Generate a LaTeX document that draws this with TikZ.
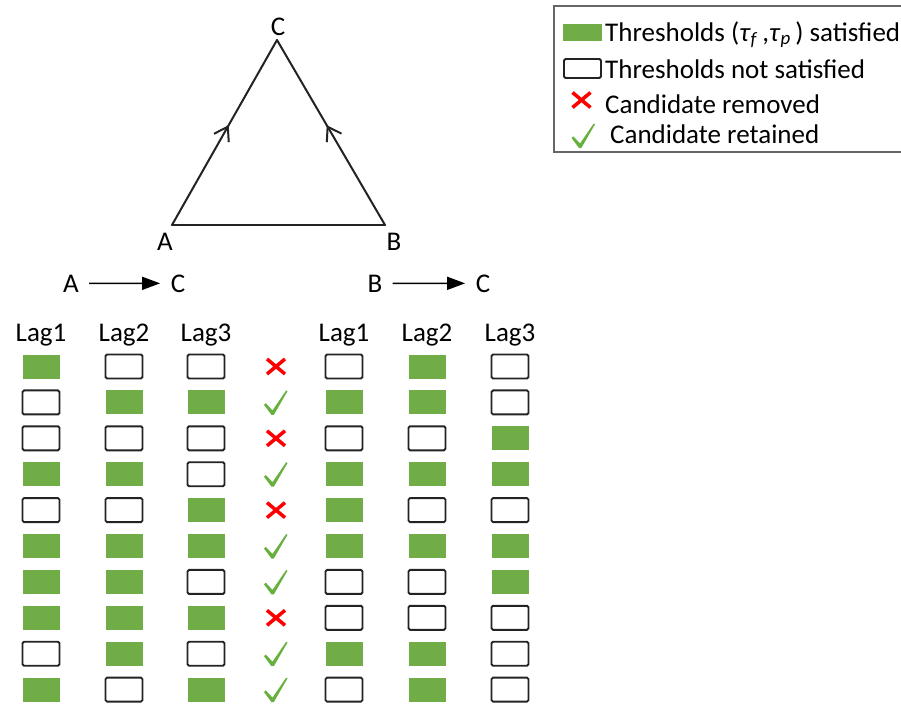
\documentclass[tikz,border=0pt]{standalone}
\usepackage{fontspec}
\setmainfont{Carlito}
\usetikzlibrary{arrows.meta,decorations.markings}
\definecolor{okgreen}{RGB}{112,173,71}
\definecolor{tickgreen}{RGB}{104,176,62}
\definecolor{inkgray}{RGB}{35,35,35}

\tikzset{
  % lag cells
  gbox/.style={fill=okgreen, draw=none, minimum width=37pt, minimum height=24pt, inner sep=0pt},
  wbox/.style={draw=inkgray, line width=1.9pt, rounded corners=1.5pt, fill=white,
               minimum width=37pt, minimum height=24pt, inner sep=0pt},
  cellG/.style={gbox},
  cellW/.style={wbox},
  label/.style={anchor=base, inner sep=0pt, text=black},
  keytext/.style={anchor=base west, inner sep=0pt, text=black},
  edge/.style={draw=inkgray, line width=2pt, line cap=round},
  midarrow/.style={postaction={decorate},
    decoration={markings, mark=at position 0.54 with
      {\arrow{Straight Barb[length=13pt,width=17pt,line width=2pt]}}}},
  flowarrow/.style={draw=black, line width=1.5pt, -{Triangle[length=18pt,width=13pt]},
                    shorten <=10pt, shorten >=10.5pt},
  okmark/.pic={\fill[tickgreen] (-12,2.5) -- (-10.2,0.8) -- (-3.5,8) -- (10.2,-12)
                 -- (11.5,-11.2) -- (-2.2,12.5) -- (-4.5,12.5) -- cycle;},
  nomark/.pic={\draw[red, line width=3.5pt] (-9,-7.5) -- (9,7.5) (-9,7.5) -- (9,-7.5);}
}

\begin{document}
\begin{tikzpicture}[x=1pt, y=-1pt, font=\fontsize{27}{32}\selectfont]
\useasboundingbox (0,0) rectangle (901,705);
\clip (0,0) rectangle (901,705);

% triangle of variables
\coordinate (vA) at (172,225);
\coordinate (vB) at (385,225);
\coordinate (vC) at (277,40);
\draw[edge] (vA) -- (vB);
\draw[edge, midarrow] (vA) -- (vC);
\draw[edge, midarrow] (vB) -- (vC);
\node[label] (lC) at (278,35) {C};
\node[label] (lA) at (165,250) {A};
\node[label] (lB) at (394,250) {B};

% candidate links
\node[label] (fromA) at (71,292) {A};
\node[label] (toC1) at (178,292) {C};
\draw[flowarrow] (fromA) -- (toC1);
\node[label] (fromB) at (375,292) {B};
\node[label] (toC2) at (483,292) {C};
\draw[flowarrow] (fromB) -- (toC2);

% column headers
\foreach \x/\t [count=\k] in {41/Lag1,124/Lag2,206/Lag3,344/Lag1,427/Lag2,510/Lag3}
  \node[label] (h\k) at (\x,341.5) {\t};

% lag table: A->C lags, decision, B->C lags
\foreach \a/\b/\c/\m/\d/\e/\f [count=\i] in {
  G/W/W/0/W/G/W,
  W/G/G/1/G/G/W,
  W/W/W/0/W/W/G,
  G/G/W/1/G/G/G,
  W/W/G/0/G/W/W,
  G/G/G/1/G/G/G,
  G/G/W/1/W/W/G,
  G/G/G/0/W/W/W,
  W/G/W/1/G/G/W,
  G/W/G/1/W/G/W}{
  \pgfmathsetmacro\yy{366.5+35.9*(\i-1)}
  \node[cell\a] (r\i c1) at (41,\yy) {};
  \node[cell\b] (r\i c2) at (124,\yy) {};
  \node[cell\c] (r\i c3) at (206,\yy) {};
  \ifnum\m=1 \pic (m\i) at (276,\yy) {okmark}; \else \pic (m\i) at (276,\yy) {nomark}; \fi
  \node[cell\d] (r\i c4) at (344,\yy) {};
  \node[cell\e] (r\i c5) at (427,\yy) {};
  \node[cell\f] (r\i c6) at (510,\yy) {};
}

% legend
\draw[draw=black!60, line width=2pt] (554,6) rectangle (915,152);
\node[gbox, minimum width=39pt, minimum height=17pt] (keyG) at (582.5,32.5) {};
\node[keytext] (txtG) at (605,41) {Thresholds (\textit{τ}\textsubscript{\textit{f}}\,,\textit{τ}\textsubscript{\textit{p}}\,) satisfied};
\node[wbox, minimum width=37pt, minimum height=19pt] (keyW) at (582.5,68.5) {};
\node[keytext] (txtW) at (605,78) {Thresholds not satisfied};
\pic (keyX) at (581.5,100) {nomark};
\node[keytext] (txtX) at (605,113) {Candidate removed};
\pic (keyV) at (583.5,135.5) {okmark};
\node[keytext] (txtV) at (610,143) {Candidate retained};
\end{tikzpicture}
\end{document}
